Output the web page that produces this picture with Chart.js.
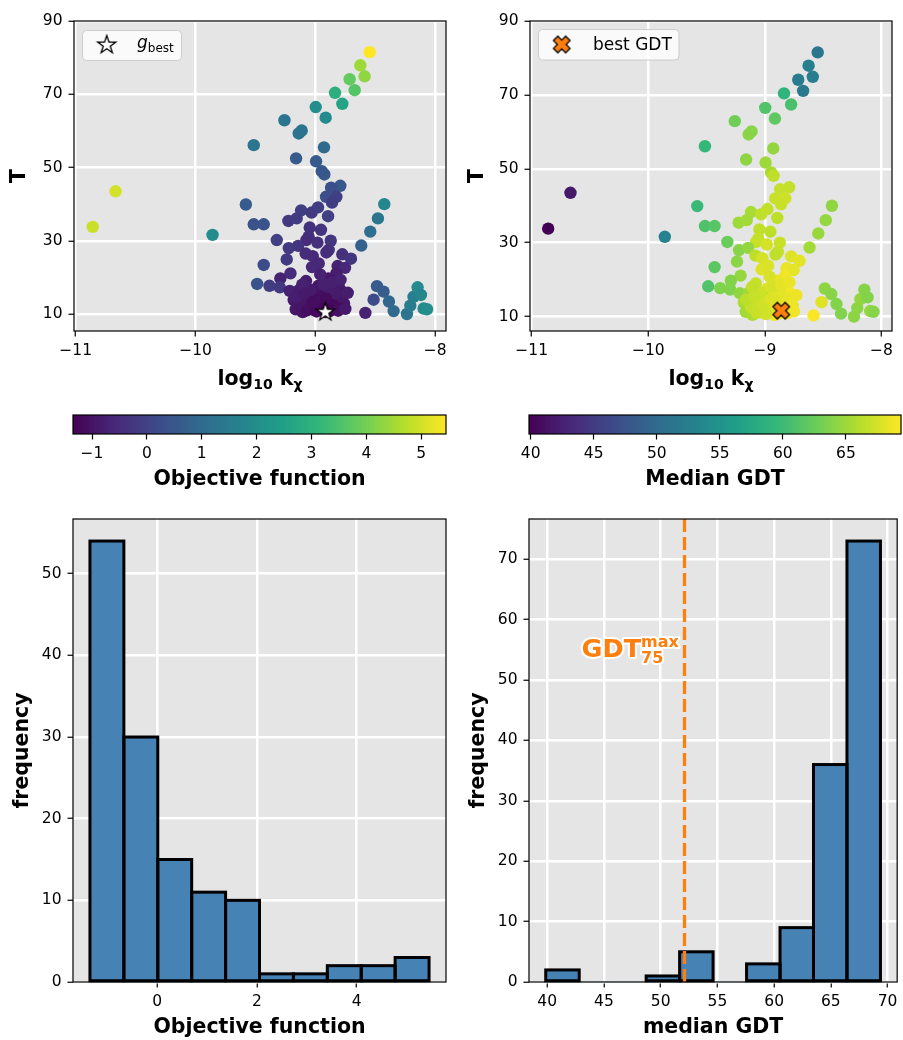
<!DOCTYPE html>
<html>
<head>
<meta charset="utf-8">
<script src="https://cdn.jsdelivr.net/npm/chart.js@4.4.1/dist/chart.umd.min.js"></script>
<style>
html,body{margin:0;padding:0;background:#fff;}
#fig{position:relative;width:903px;height:1040px;overflow:hidden;}
#fig canvas{position:absolute;}
</style>
</head>
<body>
<div id="fig">
  <canvas id="sc-obj" width="460" height="400" style="left:0;top:0"></canvas>
  <canvas id="sc-gdt" width="443" height="400" style="left:460px;top:0"></canvas>
  <canvas id="cb-obj" width="460" height="100" style="left:0;top:400px"></canvas>
  <canvas id="cb-gdt" width="443" height="100" style="left:460px;top:400px"></canvas>
  <canvas id="hist-obj" width="460" height="540" style="left:0;top:500px"></canvas>
  <canvas id="hist-gdt" width="443" height="540" style="left:460px;top:500px"></canvas>
</div>
<script>
/* ── sampled parameter sets: log10 kχ, T, objective, median GDT ── */
const logK=[
  -8.547,-8.625,-8.589,-8.714,-8.672,-8.836,-8.775,-8.997,-8.914,-9.258,
  -9.139,-9.114,-9.514,-8.928,-9.161,-8.994,-8.947,-8.925,-10.667,-10.858,
  -9.858,-8.792,-8.869,-8.911,-8.825,-8.861,-9.580,-8.425,-8.478,-8.542,
  -8.617,-9.119,-9.031,-8.978,-8.894,-9.225,-9.156,-9.514,-9.431,-9.047,
  -8.953,-9.056,-9.322,-9.075,-8.983,-8.872,-9.222,-9.144,-8.889,-9.081,
  -9.022,-8.908,-8.775,-8.703,-9.239,-9.431,-9.028,-8.972,-8.814,-8.753,
  -9.208,-9.292,-8.825,-8.892,-9.486,-9.383,-9.297,-9.078,-8.975,-8.794,
  -9.214,-9.136,-9.181,-9.097,-9.014,-9.047,-8.986,-9.164,-9.106,-8.931,
  -8.886,-8.819,-8.761,-9.014,-8.853,-8.956,-8.583,-8.514,
  -8.486,-8.431,-8.386,-8.347,-8.236,-8.208,-8.181,-8.147,-8.119,-8.097,-8.069,
  -8.917,-8.860,-8.970,-9.000,-9.060,-9.120,-9.070,-8.940,-8.900,-8.840,
  -8.800,-8.780,-8.830,-8.880,-8.930,-9.040,-9.110,-9.160,-8.990,-8.880,
  -8.810,-8.750,-8.730,-8.860,-8.960,-9.020,-8.950,-9.090,-8.790,-8.910
];
const temp=[
  81.5,77.9,74.9,74.1,71.1,70.4,67.4,66.5,63.6,62.9,
  59.3,60.1,56.1,55.5,52.5,51.7,49.0,48.1,43.5,33.8,
  31.6,45.0,44.5,42.0,42.0,40.4,39.9,40.0,36.1,32.5,
  28.7,38.3,37.7,39.1,36.7,35.4,36.1,34.5,34.5,33.6,
  33.0,31.1,30.2,30.2,29.5,30.0,28.0,28.6,27.5,26.5,
  25.8,26.8,26.3,25.1,24.9,23.4,22.8,23.8,23.1,22.6,
  21.1,19.7,21.1,19.7,18.2,17.7,17.3,19.0,17.7,16.7,
  16.3,16.5,13.8,14.9,15.6,12.9,14.0,11.3,10.5,13.4,
  14.0,13.8,12.9,11.1,11.3,11.8,10.3,13.9,
  17.6,16.1,13.4,10.8,10.0,12.3,14.7,17.3,15.2,11.5,11.3,
  10.5,11.6,12.2,13.6,14.3,12.6,11.0,15.0,12.6,12.9,
  11.7,14.6,15.6,16.4,18.1,16.6,18.0,14.6,10.7,10.8,
  10.9,11.4,15.8,18.6,20.8,13.2,14.6,15.6,19.3,14.2
];
const objective=[
  5.45,4.45,4.30,3.80,3.60,2.90,2.60,2.00,1.90,1.30,
  1.20,1.20,1.30,1.00,0.60,0.60,0.50,0.50,5.00,4.90,
  1.95,0.50,0.30,0.30,-0.05,-0.10,0.60,1.80,1.30,1.10,
  0.80,-0.10,-0.20,-0.10,-0.05,-0.20,-0.15,0.40,0.40,-0.40,
  -0.30,-0.40,-0.05,-0.50,-0.40,-0.30,-0.20,-0.30,-0.40,-0.50,
  -0.55,-0.45,-0.40,-0.30,-0.20,0.20,-0.60,-0.60,-0.70,-0.60,
  -0.50,-0.70,-0.80,-0.90,0.40,-0.10,-0.20,-0.80,-0.90,-0.90,
  -0.70,-0.80,-0.90,-1.00,-1.00,-1.10,-1.10,-0.90,-1.00,-1.20,
  -1.20,-1.20,-0.90,-1.20,-1.30,-1.30,-0.70,0.20,
  0.60,0.65,0.90,1.00,1.30,1.50,1.60,1.90,1.80,1.90,2.00,
  -1.347,-1.33,-1.25,-1.15,-1.05,-0.95,-1.10,-1.00,-1.28,-1.22,
  -1.18,-0.95,-0.85,-0.80,-0.75,-0.85,-0.72,-0.78,-1.20,-1.30,
  -1.10,-0.90,-0.80,-0.75,-0.70,-1.12,-1.08,-0.88,-0.72,-1.15
];
const medianGdt=[
  51.5,52.6,52.4,52.2,51.9,59.0,60.8,61.2,62.0,62.8,
  64.2,64.0,59.5,64.5,64.3,65.0,65.5,66.6,41.8,39.87,
  53.0,66.8,66.8,67.0,67.2,67.0,59.8,64.4,64.6,64.8,
  65.2,65.5,66.6,66.7,66.5,65.0,65.2,61.0,61.5,66.6,
  66.5,66.8,62.5,66.9,67.5,67.0,64.0,64.5,66.8,66.5,
  67.5,66.6,68.0,68.2,64.2,61.8,68.0,67.8,68.5,68.3,
  64.6,63.8,68.8,68.6,61.2,63.6,63.7,66.9,68.0,68.9,
  64.4,65.1,65.5,66.6,66.6,67.0,67.3,65.3,65.6,68.0,
  68.2,68.6,68.5,66.7,68.7,67.2,69.2,68.0,
  64.3,64.0,63.8,63.7,64.1,64.2,64.5,63.9,63.8,64.6,64.0,
  68.9,69.37,67.8,67.5,67.1,66.8,67.0,67.9,68.4,68.9,
  69.0,68.7,68.4,68.1,67.6,67.2,66.7,66.5,67.4,68.6,
  69.1,68.8,68.6,68.2,67.7,67.3,67.8,66.9,68.5,68.0
];

// histogram counts, 10 equal bins between data min and max
const objHistCounts=[54,30,15,11,10,1,1,2,2,3];
const gdtHistCounts=[2,0,0,1,5,0,3,9,36,73];
const gdtCutoff=52.1;          // GDT75 max reference line
const gdtLabelAt=[51.6,55.3];  // label anchor (right edge, middle)

const kTicks=[-11,-10,-9,-8];
const tTicks=[10,30,50,70,90];
const objCbTicks=[-1,0,1,2,3,4,5];
const gdtCbTicks=[40,45,50,55,60,65];
const objHistTicks=[0,2,4];
const gdtHistTicks=[40,45,50,55,60,65,70];
const objFreqTicks=[0,10,20,30,40,50];
const gdtFreqTicks=[0,10,20,30,40,50,60,70];

/* ── helpers ── */
const FONT="'DejaVu Sans', sans-serif";
const B20='bold 20.5px '+FONT, B14='bold 14px '+FONT;
Chart.defaults.font.family=FONT;
Chart.defaults.color='#000';
Chart.defaults.animation=false;
Chart.defaults.events=[];
Chart.defaults.plugins.legend.display=false;
Chart.defaults.plugins.tooltip.enabled=false;

const VIRIDIS=['#440154','#482878','#3e4989','#31688e','#26828e','#1f9e89','#35b779','#6ece58','#b5de2b','#fde725'];
const hexRgb=h=>[1,3,5].map(i=>parseInt(h.slice(i,i+2),16));
function viridis(t){
  t=Math.min(1,Math.max(0,t))*(VIRIDIS.length-1);
  const i=Math.min(Math.floor(t),VIRIDIS.length-2), f=t-i;
  const a=hexRgb(VIRIDIS[i]), b=hexRgb(VIRIDIS[i+1]);
  return 'rgb('+a.map((v,k)=>Math.round(v+(b[k]-v)*f)).join(',')+')';
}
function viridisGradient(chart){
  const a=chart.chartArea;
  if(!a) return VIRIDIS[0];
  const g=chart.ctx.createLinearGradient(a.left,0,a.right,0);
  VIRIDIS.forEach((c,i)=>g.addColorStop(i/(VIRIDIS.length-1),c));
  return g;
}

const objMin=Math.min(...objective), objMax=Math.max(...objective);
const gdtMin=Math.min(...medianGdt), gdtMax=Math.max(...medianGdt);
const points=logK.map((x,i)=>({x,y:temp[i]}));
const iBestObj=objective.indexOf(objMin);
const iBestGdt=medianGdt.indexOf(gdtMax);

const fmtTick=v=>v<0?'\u2212'+Math.abs(v):String(v);

function axis(min,max,ticks,fitKey,fitVal,extra){
  return Object.assign({
    type:'linear',min,max,offset:false,
    afterBuildTicks:s=>{s.ticks=ticks.map(v=>({value:v}));},
    afterFit:s=>{s[fitKey]=fitVal;},
    ticks:{font:{size:15.5},color:'#000',padding:fitKey==='width'?6:5.5,maxRotation:0,autoSkip:false,callback:fmtTick},
    grid:{color:'#fff',lineWidth:2.5,tickColor:'#000',tickWidth:1.2,tickLength:5.5,offset:false},
    border:{display:false}
  },extra||{});
}

// text made of runs with their own font and baseline shift (sub/superscripts)
function drawRich(ctx,{x,y,parts,align='center',rotate=false,color='#000',halo=0}){
  ctx.save();
  ctx.translate(x,y);
  if(rotate) ctx.rotate(-Math.PI/2);
  ctx.textBaseline='alphabetic';
  ctx.textAlign='left';
  let end=0;const items=[];
  parts.forEach(p=>{
    ctx.font=p.font;
    const w=ctx.measureText(p.t).width;
    const sx=p.stack&&items.length?items[items.length-1].sx:end;
    items.push({p,sx});
    end=Math.max(end,sx+w);
  });
  const off=align==='center'?-end/2:align==='right'?-end:0;
  if(halo){
    ctx.strokeStyle='#fff';ctx.lineWidth=halo;ctx.lineJoin='round';
    items.forEach(({p,sx})=>{ctx.font=p.font;ctx.strokeText(p.t,off+sx,p.dy||0);});
  }
  ctx.fillStyle=color;
  items.forEach(({p,sx})=>{ctx.font=p.font;ctx.fillText(p.t,off+sx,p.dy||0);});
  ctx.restore();
}

function legendBox(ctx,x,y,w,h){
  const r=4;
  ctx.save();
  ctx.beginPath();
  ctx.moveTo(x+r,y);ctx.lineTo(x+w-r,y);ctx.arcTo(x+w,y,x+w,y+r,r);
  ctx.lineTo(x+w,y+h-r);ctx.arcTo(x+w,y+h,x+w-r,y+h,r);
  ctx.lineTo(x+r,y+h);ctx.arcTo(x,y+h,x,y+h-r,r);
  ctx.lineTo(x,y+r);ctx.arcTo(x,y,x+r,y,r);ctx.closePath();
  ctx.fillStyle='rgba(255,255,255,0.8)';ctx.fill();
  ctx.strokeStyle='#cccccc';ctx.lineWidth=1;ctx.stroke();
  ctx.restore();
}

function makeMarker(draw){
  const c=document.createElement('canvas');c.width=c.height=26;
  const g=c.getContext('2d');g.translate(13,13);draw(g);return c;
}
const starMarker=makeMarker(g=>{
  g.beginPath();
  for(let i=0;i<10;i++){
    const r=i%2?3.7:9.5, a=-Math.PI/2+i*Math.PI/5;
    g.lineTo(r*Math.cos(a),r*Math.sin(a));
  }
  g.closePath();g.fillStyle='#fff';g.fill();
  g.lineWidth=1.3;g.strokeStyle='#000';g.stroke();
});
const crossMarker=makeMarker(g=>{
  const L=8.6,w=3.1;
  const pts=[[w,w],[L,w],[L,-w],[w,-w],[w,-L],[-w,-L],[-w,-w],[-L,-w],[-L,w],[-w,w],[-w,L],[w,L]];
  g.rotate(Math.PI/4);
  g.beginPath();pts.forEach(([a,b])=>g.lineTo(a,b));g.closePath();
  g.fillStyle='#ff7f0e';g.fill();
  g.lineWidth=1.3;g.strokeStyle='#000';g.stroke();
});

// grey panel, black frame, plus per-chart extras
function panel({bg=null,afterData=null,draw=null}={}){
  return {
    id:'panel',
    beforeDraw(chart){
      if(!bg) return;
      const {ctx,chartArea:a}=chart;
      ctx.save();ctx.fillStyle=bg;ctx.fillRect(a.left,a.top,a.right-a.left,a.bottom-a.top);ctx.restore();
    },
    afterDatasetsDraw(chart){ if(afterData) afterData(chart,chart.ctx); },
    afterDraw(chart){
      const {ctx,chartArea:a}=chart;
      ctx.save();ctx.strokeStyle='#000';ctx.lineWidth=1.2;
      ctx.strokeRect(a.left,a.top,a.right-a.left,a.bottom-a.top);ctx.restore();
      if(draw) draw(chart,chart.ctx);
    }
  };
}
const midX=c=>(c.chartArea.left+c.chartArea.right)/2;
const midY=c=>(c.chartArea.top+c.chartArea.bottom)/2;
const kLabel=[{t:'log',font:B20},{t:'10',font:B14,dy:4},{t:' k',font:B20},{t:'\u03c7',font:B14,dy:4}];

/* ── top row: scatter of T against log10 kχ ── */
function scatter(id,colors,best,marker,tMin,padR,yW,tLabelX,legend){
  return new Chart(document.getElementById(id),{
    type:'scatter',
    data:{datasets:[
      {data:[points[best]],pointStyle:marker,pointRadius:10,order:0},
      {data:points,backgroundColor:colors,borderColor:colors,borderWidth:0,pointRadius:6.2,order:1}
    ]},
    options:{
      responsive:false,
      layout:{padding:{left:0,top:21,right:padR,bottom:0}},
      scales:{
        x:axis(-11.014,-7.91,kTicks,'height',69),
        y:axis(tMin,90,tTicks,'width',yW)
      }
    },
    plugins:[panel({bg:'#e5e5e5',draw:(c,ctx)=>{
      drawRich(ctx,{x:midX(c),y:385,parts:kLabel});
      drawRich(ctx,{x:tLabelX,y:midY(c),rotate:true,parts:[{t:'T',font:B20}]});
      legend(ctx);
    }})]
  });
}

scatter('sc-obj',objective.map(v=>viridis((v-objMin)/(objMax-objMin))),iBestObj,starMarker,5.36,14,74,25,ctx=>{
  legendBox(ctx,82.5,30.5,99,30);
  ctx.drawImage(starMarker,106.7-13,45-13);
  drawRich(ctx,{x:137,y:48,align:'left',parts:[{t:'g',font:'italic 17px '+FONT},{t:'best',font:'12px '+FONT,dy:3.7}]});
});
scatter('sc-gdt',medianGdt.map(v=>viridis((v-gdtMin)/(gdtMax-gdtMin))),iBestGdt,crossMarker,6.1,2,70,23,ctx=>{
  legendBox(ctx,78.5,29.5,140.5,30.5);
  ctx.drawImage(crossMarker,101.7-13,44.5-13);
  drawRich(ctx,{x:133,y:50,align:'left',parts:[{t:'best GDT',font:'17px '+FONT}]});
});

/* ── colour bars ── */
function colorbar(id,lo,hi,ticks,padL,padR,label){
  return new Chart(document.getElementById(id),{
    type:'bar',
    data:{labels:[''],datasets:[{data:[[lo,hi]],backgroundColor:c=>viridisGradient(c.chart),borderWidth:0,barPercentage:1,categoryPercentage:1}]},
    options:{
      responsive:false,
      indexAxis:'y',
      layout:{padding:{left:padL,top:15,right:padR,bottom:0}},
      scales:{
        x:axis(lo,hi,ticks,'height',66,{grid:{drawOnChartArea:false,tickColor:'#000',tickWidth:1.2,tickLength:5.5,offset:false}}),
        y:{display:false}
      }
    },
    plugins:[panel({draw:(c,ctx)=>drawRich(ctx,{x:midX(c),y:85,parts:[{t:label,font:B20}]})})]
  });
}
colorbar('cb-obj',objMin,objMax,objCbTicks,73,14,'Objective function');
colorbar('cb-gdt',gdtMin,gdtMax,gdtCbTicks,69,2,'Median GDT');

/* ── bottom row: histograms ── */
function binCenters(lo,hi,n){
  const w=(hi-lo)/n;
  return Array.from({length:n},(_,i)=>lo+w*(i+0.5));
}
function strokeBars(chart,counts){
  const ctx=chart.ctx;
  ctx.save();ctx.strokeStyle='#000';ctx.lineWidth=3;
  chart.getDatasetMeta(0).data.forEach((bar,i)=>{
    if(!counts[i]) return;
    const {x,y,base,width}=bar.getProps(['x','y','base','width'],true);
    ctx.strokeRect(x-width/2,y,width,base-y);
  });
  ctx.restore();
}
function histogram(id,counts,lo,hi,xTicks,yTicks,padR,yW,freqX,label,extraData,extraDraw){
  const centers=binCenters(lo,hi,counts.length);
  const span=hi-lo;
  return new Chart(document.getElementById(id),{
    type:'bar',
    data:{datasets:[{data:centers.map((c,i)=>({x:c,y:counts[i]})),backgroundColor:'#4682b4',borderWidth:0,
      barPercentage:1,categoryPercentage:1}]},
    options:{
      responsive:false,
      layout:{padding:{left:0,top:19,right:padR,bottom:0}},
      scales:{
        x:axis(lo-0.05*span,hi+0.05*span,xTicks,'height',58),
        y:axis(0,Math.max(...counts)*1.05,yTicks,'width',yW)
      }
    },
    plugins:[panel({bg:'#e5e5e5',
      afterData:(c,ctx)=>{strokeBars(c,counts);if(extraData) extraData(c,ctx);},
      draw:(c,ctx)=>{
        drawRich(ctx,{x:midX(c),y:533,parts:[{t:label,font:B20}]});
        drawRich(ctx,{x:freqX,y:midY(c),rotate:true,parts:[{t:'frequency',font:B20}]});
        if(extraDraw) extraDraw(c,ctx);
      }})]
  });
}

histogram('hist-obj',objHistCounts,objMin,objMax,objHistTicks,objFreqTicks,14,73,28,'Objective function');
histogram('hist-gdt',gdtHistCounts,gdtMin,gdtMax,gdtHistTicks,gdtFreqTicks,2,69,24,'median GDT',
  (c,ctx)=>{
    const a=c.chartArea, px=c.scales.x.getPixelForValue(gdtCutoff);
    ctx.save();
    ctx.strokeStyle='#ff7f0e';ctx.lineWidth=3.3;ctx.setLineDash([13,5]);
    ctx.beginPath();ctx.moveTo(px,a.top);ctx.lineTo(px,a.bottom);ctx.stroke();
    ctx.restore();
  },
  (c,ctx)=>{
    const px=c.scales.x.getPixelForValue(gdtLabelAt[0]), py=c.scales.y.getPixelForValue(gdtLabelAt[1]);
    drawRich(ctx,{x:px,y:py+9,align:'right',color:'#ff7f0e',halo:4,parts:[
      {t:'GDT',font:'bold 25.5px '+FONT},
      {t:'max',font:'bold 16px '+FONT,dy:-9.5},
      {t:'75',font:'bold 16px '+FONT,dy:6,stack:true}
    ]});
  });
</script>
</body>
</html>
